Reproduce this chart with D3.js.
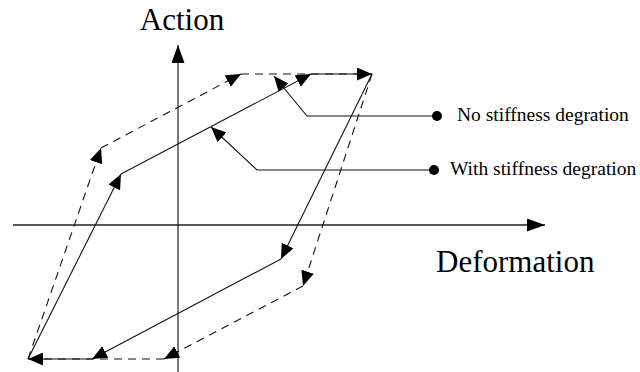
<!DOCTYPE html>
<html>
<head>
<meta charset="utf-8">
<script src="https://cdn.jsdelivr.net/npm/d3@7"></script>
<style>
  body { margin: 0; background: #fff; }
  svg { display: block; }
</style>
</head>
<body>
<script>
// schematic hysteresis loops, values in arbitrary units (deformation, action)
const noDegradation = [
  [-15.0, -13.4],
  [-5.7, 5.1],
  [13.3, 15.1],
  [19.4, 15.1],
  [10.3, -3.4],
  [-8.6, -13.4],
  [-15.0, -13.4],
];

const withDegradation = [
  [-15.0, -13.4],
  [-7.7, 7.7],
  [6.3, 15.1],
  [19.4, 15.1],
  [12.5, -6.1],
  [-1.4, -13.4],
  [-15.0, -13.4],
];

// which segments of the dashed loop carry an arrow (others overlap the solid one)
const dashedArrowSegs = [0, 1, 3, 4];

const xAxisExtent = [-16.5, 36.7];
const yAxisExtent = [-14.8, 18.0];

const labels = ["No stiffness degration", "With stiffness degration"];
// leader: [tip, elbow, dot]
const leaders = [
  [[9.6, 14.9], [12.9, 10.9], [25.9, 10.9]],
  [[3.3, 9.8], [7.9, 5.5], [25.6, 5.5]],
];

const width = 640;
const height = 372;
const serif = "'Liberation Serif', 'Times New Roman', serif";

const x = d3.scaleLinear().domain([-15, 37]).range([28, 548]);
const y = d3.scaleLinear().domain([-15, 20]).range([375, 25]);

const svg = d3
  .select("body")
  .append("svg")
  .attr("width", width)
  .attr("height", height);

const defs = svg.append("defs");

function marker(id, len, half) {
  defs
    .append("marker")
    .attr("id", id)
    .attr("markerUnits", "userSpaceOnUse")
    .attr("viewBox", `0 ${-half} ${len} ${half * 2}`)
    .attr("refX", len)
    .attr("refY", 0)
    .attr("markerWidth", len)
    .attr("markerHeight", half * 2)
    .attr("orient", "auto")
    .append("path")
    .attr("d", `M0,${-half}L${len},0L0,${half}Z`)
    .attr("fill", "#000");
}
marker("head", 15, 6.5);
marker("axisHead", 18, 6.5);

// axes
svg
  .append("line")
  .attr("x1", x(0))
  .attr("x2", x(0))
  .attr("y1", y(yAxisExtent[0]))
  .attr("y2", y(yAxisExtent[1]))
  .attr("stroke", "#7a7a7a")
  .attr("stroke-width", 2)
  .attr("marker-end", "url(#axisHead)");

svg
  .append("line")
  .attr("x1", x(xAxisExtent[0]))
  .attr("x2", x(xAxisExtent[1]))
  .attr("y1", y(0))
  .attr("y2", y(0))
  .attr("stroke", "#222")
  .attr("stroke-width", 1.5)
  .attr("marker-end", "url(#axisHead)");

function segments(pts) {
  const out = [];
  for (let i = 0; i < pts.length - 1; i++) {
    out.push({ i: i, a: pts[i], b: pts[i + 1] });
  }
  return out;
}

// dashed loop first, solid loop on top
svg
  .append("g")
  .selectAll("line")
  .data(segments(withDegradation))
  .enter()
  .append("line")
  .attr("x1", function (d) { return x(d.a[0]); })
  .attr("y1", function (d) { return y(d.a[1]); })
  .attr("x2", function (d) { return x(d.b[0]); })
  .attr("y2", function (d) { return y(d.b[1]); })
  .attr("stroke", "#111")
  .attr("stroke-width", 1.1)
  .attr("stroke-dasharray", "8,6")
  .attr("marker-end", function (d) {
    return dashedArrowSegs.includes(d.i) ? "url(#head)" : null;
  });

svg
  .append("g")
  .selectAll("line")
  .data(segments(noDegradation))
  .enter()
  .append("line")
  .attr("x1", function (d) { return x(d.a[0]); })
  .attr("y1", function (d) { return y(d.a[1]); })
  .attr("x2", function (d) { return x(d.b[0]); })
  .attr("y2", function (d) { return y(d.b[1]); })
  .attr("stroke", "#111")
  .attr("stroke-width", 1.1)
  .attr("marker-end", "url(#head)");

// leaders + legend text
const leader = svg.append("g").selectAll("g").data(leaders).enter().append("g");

leader
  .append("path")
  .attr("d", function (d) {
    return d3.line()(d.slice().reverse().map(function (p) { return [x(p[0]), y(p[1])]; }));
  })
  .attr("fill", "none")
  .attr("stroke", "#111")
  .attr("stroke-width", 1.1)
  .attr("marker-end", "url(#head)");

leader
  .append("circle")
  .attr("cx", function (d) { return x(d[2][0]); })
  .attr("cy", function (d) { return y(d[2][1]); })
  .attr("r", 5)
  .attr("fill", "#000");

leader
  .append("text")
  .attr("x", function (d, i) { return x(d[2][0]) + (i === 0 ? 20 : 16); })
  .attr("y", function (d) { return y(d[2][1]) + 5; })
  .text(function (d, i) { return labels[i]; })
  .style("font-family", serif)
  .style("font-size", "19.5px")
  .attr("fill", "#000");

svg
  .append("text")
  .attr("x", x(0) + 4)
  .attr("y", 30)
  .attr("text-anchor", "middle")
  .text("Action")
  .style("font-family", serif)
  .style("font-size", "31px");

svg
  .append("text")
  .attr("x", 436)
  .attr("y", 272)
  .text("Deformation")
  .style("font-family", serif)
  .style("font-size", "31px");
</script>
</body>
</html>
